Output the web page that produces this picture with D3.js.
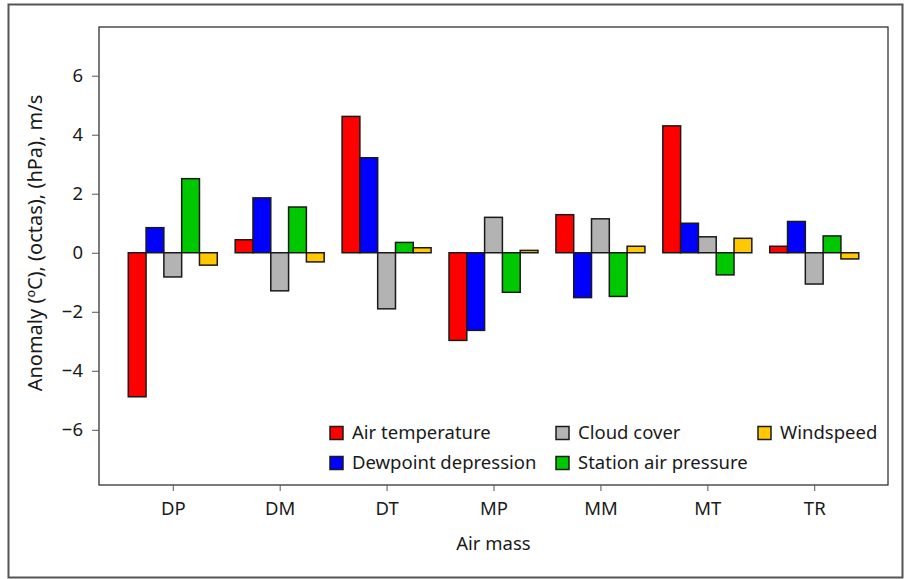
<!DOCTYPE html>
<html>
<head>
<meta charset="utf-8">
<script src="https://cdn.jsdelivr.net/npm/d3@7"></script>
<style>
  body { margin: 0; background: #fff; }
  svg text { font-family: "Noto Sans", "Open Sans", sans-serif; fill: #1a1a1a; }
</style>
</head>
<body>
<svg id="chart"></svg>
<script>
const airMasses = ['DP', 'DM', 'DT', 'MP', 'MM', 'MT', 'TR'];
const seriesNames = ['Air temperature', 'Dewpoint depression', 'Cloud cover', 'Station air pressure', 'Windspeed'];
const seriesColors = ['#ff0000', '#0000ff', '#b3b3b3', '#00c800', '#ffc800'];

const airTemperature    = [-4.88, 0.44, 4.62, -2.97, 1.29, 4.30, 0.22];
const dewpointDepression = [0.85, 1.86, 3.22, -2.63, -1.52, 1.00, 1.06];
const cloudCover        = [-0.82, -1.29, -1.90, 1.20, 1.15, 0.54, -1.06];
const stationPressure   = [2.51, 1.55, 0.35, -1.34, -1.48, -0.75, 0.57];
const windspeed         = [-0.42, -0.31, 0.17, 0.08, 0.22, 0.49, -0.21];

const yTicks = [-6, -4, -2, 0, 2, 4, 6];

const allSeries = [airTemperature, dewpointDepression, cloudCover, stationPressure, windspeed];

const width = 906, height = 579;
const margin = {top: 27, right: 18, bottom: 94, left: 99};
const fontSize = 18.5;

const svg = d3.select('#chart')
  .attr('width', width)
  .attr('height', height);

// outer frame
svg.append('rect')
  .attr('x', 8.5).attr('y', 4.5)
  .attr('width', 894).attr('height', 573)
  .attr('fill', 'none')
  .attr('stroke', '#555')
  .attr('stroke-width', 2);

const x = d3.scalePoint()
  .domain(airMasses)
  .range([margin.left, width - margin.right])
  .padding(0.69);

const y = d3.scaleLinear()
  .domain([-7.87, 7.65])
  .range([height - margin.bottom, margin.top]);

const barW = 17.8;
const inner = d3.scaleBand()
  .domain(d3.range(seriesNames.length))
  .range([-barW * 2.5, barW * 2.5]);

// bars
const rows = [];
airMasses.forEach((m, i) => {
  allSeries.forEach((s, j) => {
    rows.push({mass: m, series: j, value: s[i]});
  });
});

svg.append('g')
  .selectAll('rect')
  .data(rows)
  .join('rect')
    .attr('x', d => x(d.mass) + inner(d.series))
    .attr('width', inner.bandwidth())
    .attr('y', d => y(Math.max(0, d.value)))
    .attr('height', d => Math.abs(y(d.value) - y(0)))
    .attr('fill', d => seriesColors[d.series])
    .attr('stroke', '#1a1a1a')
    .attr('stroke-width', 1.5);

// plot box
svg.append('rect')
  .attr('x', margin.left).attr('y', margin.top)
  .attr('width', width - margin.left - margin.right)
  .attr('height', height - margin.top - margin.bottom)
  .attr('fill', 'none')
  .attr('stroke', '#222')
  .attr('stroke-width', 1.2);

// axes
const yAxis = svg.append('g')
  .attr('transform', `translate(${margin.left},0)`)
  .call(d3.axisLeft(y).tickValues(yTicks).tickSize(7).tickPadding(9)
    .tickFormat(d => d < 0 ? '\u2212' + Math.abs(d) : d));
yAxis.select('.domain').remove();
yAxis.selectAll('line').attr('stroke', '#555');
yAxis.selectAll('text').attr('font-size', fontSize).attr('fill', '#1a1a1a');

const xAxis = svg.append('g')
  .attr('transform', `translate(0,${height - margin.bottom})`)
  .call(d3.axisBottom(x).tickSize(6).tickPadding(11));
xAxis.select('.domain').remove();
xAxis.selectAll('line').attr('stroke', '#555');
xAxis.selectAll('text').attr('font-size', fontSize).attr('fill', '#1a1a1a');

// axis titles
svg.append('text')
  .attr('x', (margin.left + width - margin.right) / 2)
  .attr('y', 550)
  .attr('text-anchor', 'middle')
  .attr('font-size', fontSize)
  .text('Air mass');

svg.append('text')
  .attr('transform', 'translate(42,243) rotate(-90)')
  .attr('text-anchor', 'middle')
  .attr('font-size', 20)
  .text('Anomaly (\u00baC), (octas), (hPa), m/s');

// legend, filled column by column
const legendCols = [330, 556, 758];
const legendRows = [433, 463];
const legend = svg.append('g')
  .selectAll('g')
  .data(seriesNames)
  .join('g')
    .attr('transform', (d, i) => `translate(${legendCols[Math.floor(i / 2)]},${legendRows[i % 2]})`);

legend.append('rect')
  .attr('x', 0).attr('y', -6.5)
  .attr('width', 13).attr('height', 13)
  .attr('fill', (d, i) => seriesColors[i])
  .attr('stroke', '#1a1a1a')
  .attr('stroke-width', 1.5);

legend.append('text')
  .attr('x', 22)
  .attr('dy', '0.35em')
  .attr('font-size', fontSize)
  .text(d => d);
</script>
</body>
</html>
